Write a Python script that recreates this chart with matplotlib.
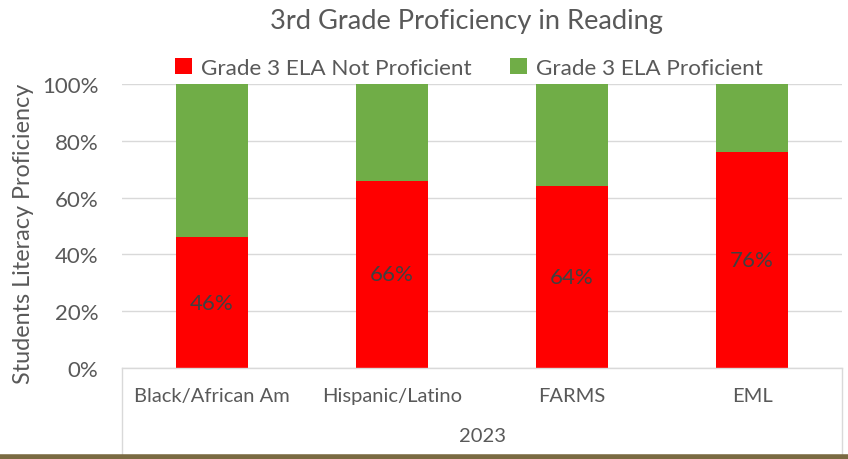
import matplotlib
matplotlib.use("Agg")
import matplotlib.pyplot as plt
from matplotlib.lines import Line2D
from matplotlib.ticker import PercentFormatter

categories = ["Black/African Am", "Hispanic/Latino", "FARMS", "EML"]
group_label = "2023"
not_proficient = [46, 66, 64, 76]
proficient = [54, 34, 36, 24]
series_names = ["Grade 3 ELA Not Proficient", "Grade 3 ELA Proficient"]

plt.rcParams['font.family'] = ['Lato', 'DejaVu Sans']
txt = '#595959'

fig = plt.figure(figsize=(8.48, 4.6), dpi=100)
W, H = 848, 460
ax = fig.add_axes([122 / W, 1 - 369 / H, 720 / W, 284 / H])

x = list(range(len(categories)))
ax.bar(x, not_proficient, width=0.4, color='#FF0000', label=series_names[0], zorder=2)
ax.bar(x, proficient, width=0.4, bottom=not_proficient, color='#70AD47', label=series_names[1], zorder=2)

for xi, v in zip(x, not_proficient):
    ax.text(xi, v / 2, f"{v}%", ha='center', va='center', fontsize=16, color='#404040', zorder=3)

ax.set_xlim(-0.5, len(categories) - 0.5)
ax.set_ylim(0, 100)
ax.set_yticks(range(0, 101, 20))
ax.yaxis.set_major_formatter(PercentFormatter(decimals=0))
ax.tick_params(axis='y', length=0, labelsize=16, labelcolor=txt, pad=17)
ax.set_xticks([])
ax.grid(axis='y', color='#D9D9D9', linewidth=1, zorder=0)
for s in ['top', 'right', 'left', 'bottom']:
    ax.spines[s].set_visible(False)

fig.text(24 / W, 1 - 234 / H, "Students Literacy Proficiency", rotation=90,
         ha='center', va='center', fontsize=16.8, color=txt)

# category axis box
box_col = '#D9D9D9'
y0 = 1 - 369 / H
y1 = 1 - 456 / H
x0 = 122 / W
x1 = 842 / W
fig.add_artist(Line2D([x0, x1], [y0, y0], color=box_col, lw=1))
fig.add_artist(Line2D([x0, x0], [y0, y1], color=box_col, lw=1))
fig.add_artist(Line2D([x1, x1], [y0, y1], color=box_col, lw=1))

for xi, c in zip(x, categories):
    fig.text((122 + 180 * xi + 90) / W, 1 - 397 / H, c, ha='center', va='center', fontsize=14.5, color=txt)
fig.text(482 / W, 1 - 437 / H, group_label, ha='center', va='center', fontsize=14.5, color=txt)

# bottom brown rule
fig.add_artist(Line2D([0, 1], [1 - 458 / H, 1 - 458 / H], color='#7A6A42', lw=4))

fig.text(466 / W, 1 - 21 / H, "3rd Grade Proficiency in Reading", ha='center', va='center', fontsize=19.6, color=txt)
leg = fig.legend(loc='center', bbox_to_anchor=(469 / W, 1 - 69 / H), ncol=2, frameon=False,
                 fontsize=16.2, handlelength=0.75, handleheight=0.75, handletextpad=0.4,
                 columnspacing=1.7, labelcolor=txt)

fig.savefig("out.png", dpi=100)
